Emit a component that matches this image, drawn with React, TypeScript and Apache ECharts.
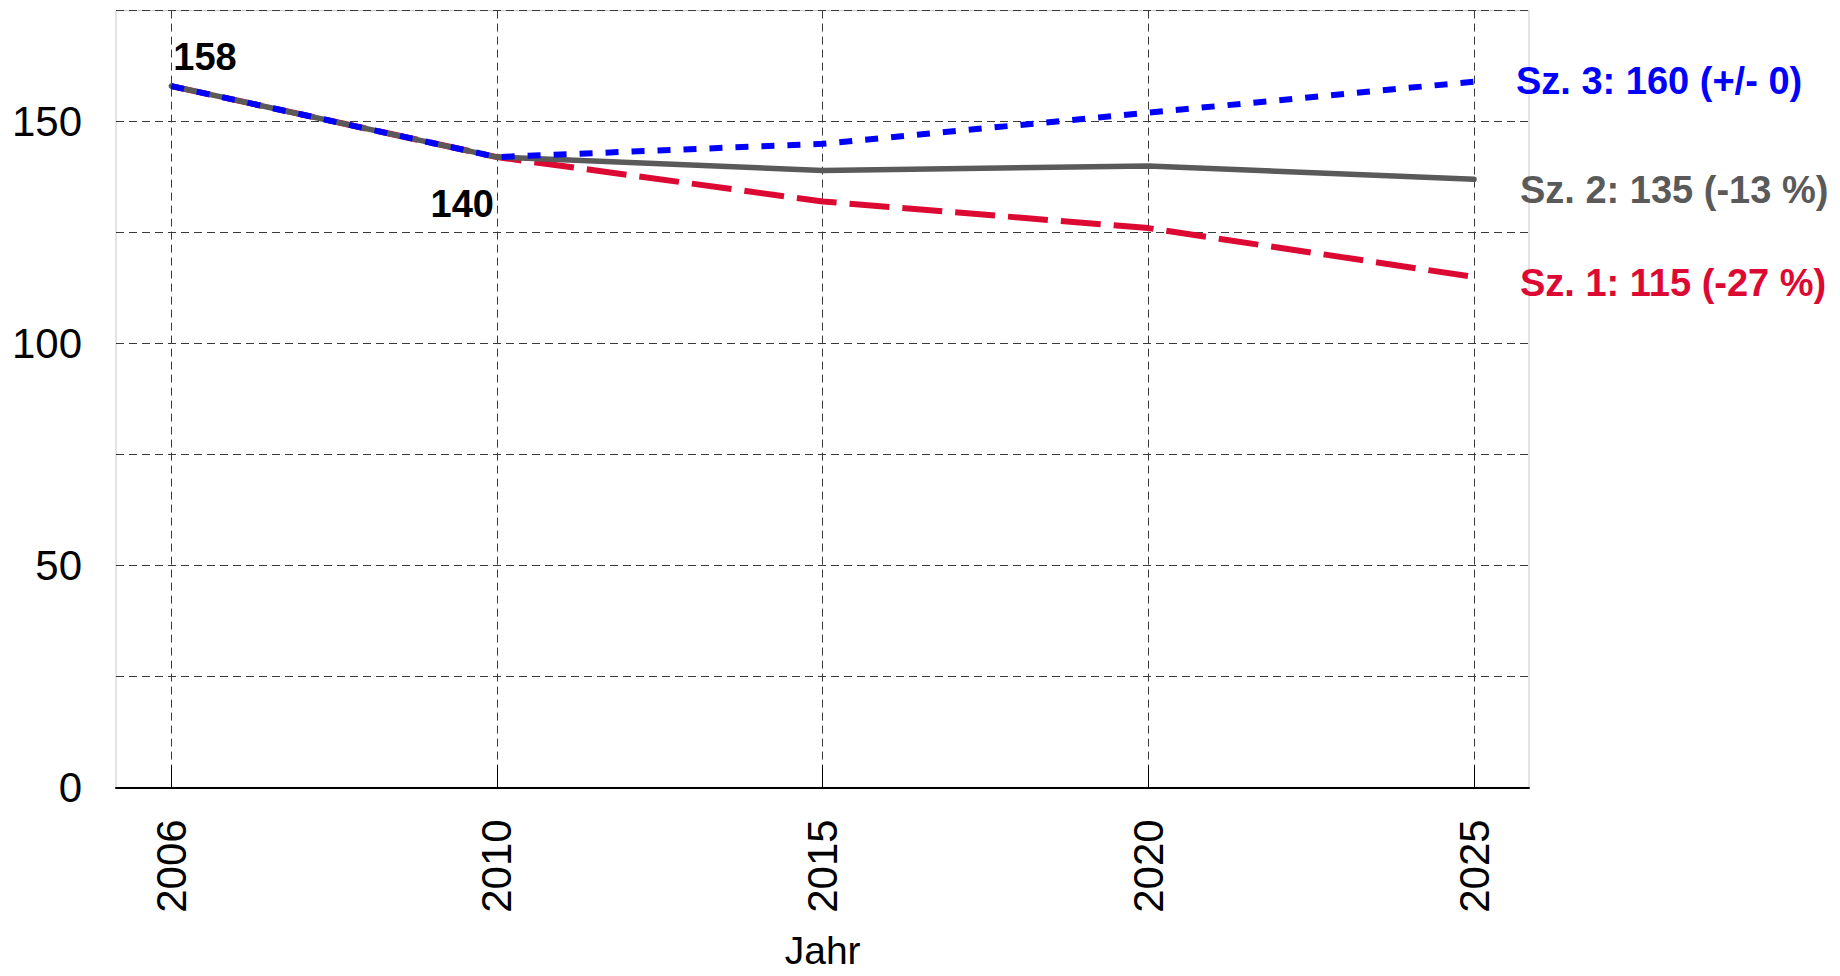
import React, { useEffect, useRef } from "react";
import * as echarts from "echarts";

const years = ["2006", "2010", "2015", "2020", "2025"];
const sz1 = [158, 142, 132, 126, 115];
const sz2 = [158, 142, 139, 140, 137];
const sz3 = [158, 142, 145, 152, 159];
const pointLabels = ["158", "140", "", "", ""];
const endLabel1 = "Sz. 1: 115 (-27 %)";
const endLabel2 = "Sz. 2: 135 (-13 %)";
const endLabel3 = "Sz. 3: 160 (+/- 0)";
const yLabelValues = [0, 50, 100, 150];
const xName = "Jahr";

const FONT = "'Liberation Sans', Arial, sans-serif";
const RED = "#dc0a32";
const GRAY = "#5a5a5a";
const BLUE = "#0000ff";

export default function App() {
  const ref = useRef<HTMLDivElement>(null);
  useEffect(() => {
    if (!ref.current) return;
    const chart = echarts.init(ref.current, null, { renderer: "svg" });
    const frame = { left: 116, right: 311, top: 10.6, bottom: 188.6 };
    const data = { left: 171.3, right: 366, top: 10.6, bottom: 188.6 };
    const gray2 = sz2.map((v, i) => {
      const t = pointLabels[i];
      if (!t) return v;
      return i === 0
        ? {
            value: v,
            label: {
              show: true,
              formatter: t,
              position: "top",
              align: "left",
              verticalAlign: "bottom",
              distance: 9,
              offset: [2, 0],
              fontSize: 38,
              fontWeight: "bold",
              color: "#000",
              fontFamily: FONT,
            },
          }
        : {
            value: v,
            label: {
              show: true,
              formatter: t,
              position: "bottom",
              align: "right",
              verticalAlign: "top",
              distance: 27,
              offset: [-3, 0],
              fontSize: 38,
              fontWeight: "bold",
              color: "#000",
              fontFamily: FONT,
            },
          };
    });
    const endLbl = (text: string, color: string, dx: number, dy: number) => ({
      show: true,
      formatter: text,
      color,
      fontSize: 38,
      fontWeight: "bold",
      fontFamily: FONT,
      distance: 42,
      offset: [dx, dy],
      align: "left",
      verticalAlign: "middle",
    });
    chart.setOption({
      animation: false,
      backgroundColor: "#fff",
      textStyle: { fontFamily: FONT },
      grid: [
        {
          ...frame,
          show: true,
          borderColor: "#c8c8c8",
          borderWidth: 1,
          containLabel: false,
          outerBoundsMode: "none",
        },
        { ...data, containLabel: false, outerBoundsMode: "none" },
      ],
      xAxis: [
        {
          gridIndex: 0,
          type: "value",
          min: 0,
          max: 1,
          axisLine: { show: true, onZero: false, lineStyle: { color: "#000", width: 2 } },
          axisTick: { show: false },
          axisLabel: { show: false },
          splitLine: { show: false },
        },
        {
          gridIndex: 1,
          type: "category",
          data: years,
          boundaryGap: false,
          name: xName,
          nameLocation: "middle",
          nameGap: 145,
          nameTextStyle: { fontSize: 39, lineHeight: 36, color: "#000", fontFamily: FONT },
          axisLine: { show: false },
          axisTick: { show: true, inside: true, length: 22, lineStyle: { color: "#000", width: 1 } },
          axisLabel: { rotate: 90, fontSize: 42, color: "#000", margin: 32, fontFamily: FONT },
          splitLine: { show: true, lineStyle: { color: "#3a3a3a", width: 1, type: [8, 5] } },
        },
      ],
      yAxis: [
        {
          gridIndex: 0,
          type: "value",
          min: 0,
          max: 175,
          interval: 25,
          axisLine: { show: false },
          axisTick: { show: false },
          axisLabel: {
            fontSize: 42,
            color: "#000",
            margin: 34,
            fontFamily: FONT,
            formatter: (v: number) => (yLabelValues.includes(v) ? String(v) : ""),
          },
          splitLine: { show: true, lineStyle: { color: "#3a3a3a", width: 1, type: [8, 5] } },
        },
        {
          gridIndex: 1,
          type: "value",
          min: 0,
          max: 175,
          show: false,
          splitLine: { show: false },
        },
      ],
      series: [
        {
          type: "line",
          xAxisIndex: 1,
          yAxisIndex: 1,
          data: sz1,
          symbol: "none",
          lineStyle: { color: RED, width: 6, type: [40, 13] },
          endLabel: endLbl(endLabel1, RED, 4, 6),
          z: 3,
        },
        {
          type: "line",
          xAxisIndex: 1,
          yAxisIndex: 1,
          data: gray2,
          symbol: "circle",
          symbolSize: 2,
          showSymbol: true,
          itemStyle: { color: GRAY },
          lineStyle: { color: GRAY, width: 5.5, cap: "round" },
          endLabel: endLbl(endLabel2, GRAY, 4, 11),
          z: 4,
        },
        {
          type: "line",
          xAxisIndex: 1,
          yAxisIndex: 1,
          data: sz3,
          symbol: "none",
          lineStyle: { color: BLUE, width: 6, type: [13, 13] },
          endLabel: endLbl(endLabel3, BLUE, 0, -1),
          z: 5,
        },
      ],
    });
    return () => chart.dispose();
  }, []);
  return (
    <div
      ref={ref}
      style={{ position: "fixed", left: 0, top: 0, width: 1840, height: 976 }}
    />
  );
}
